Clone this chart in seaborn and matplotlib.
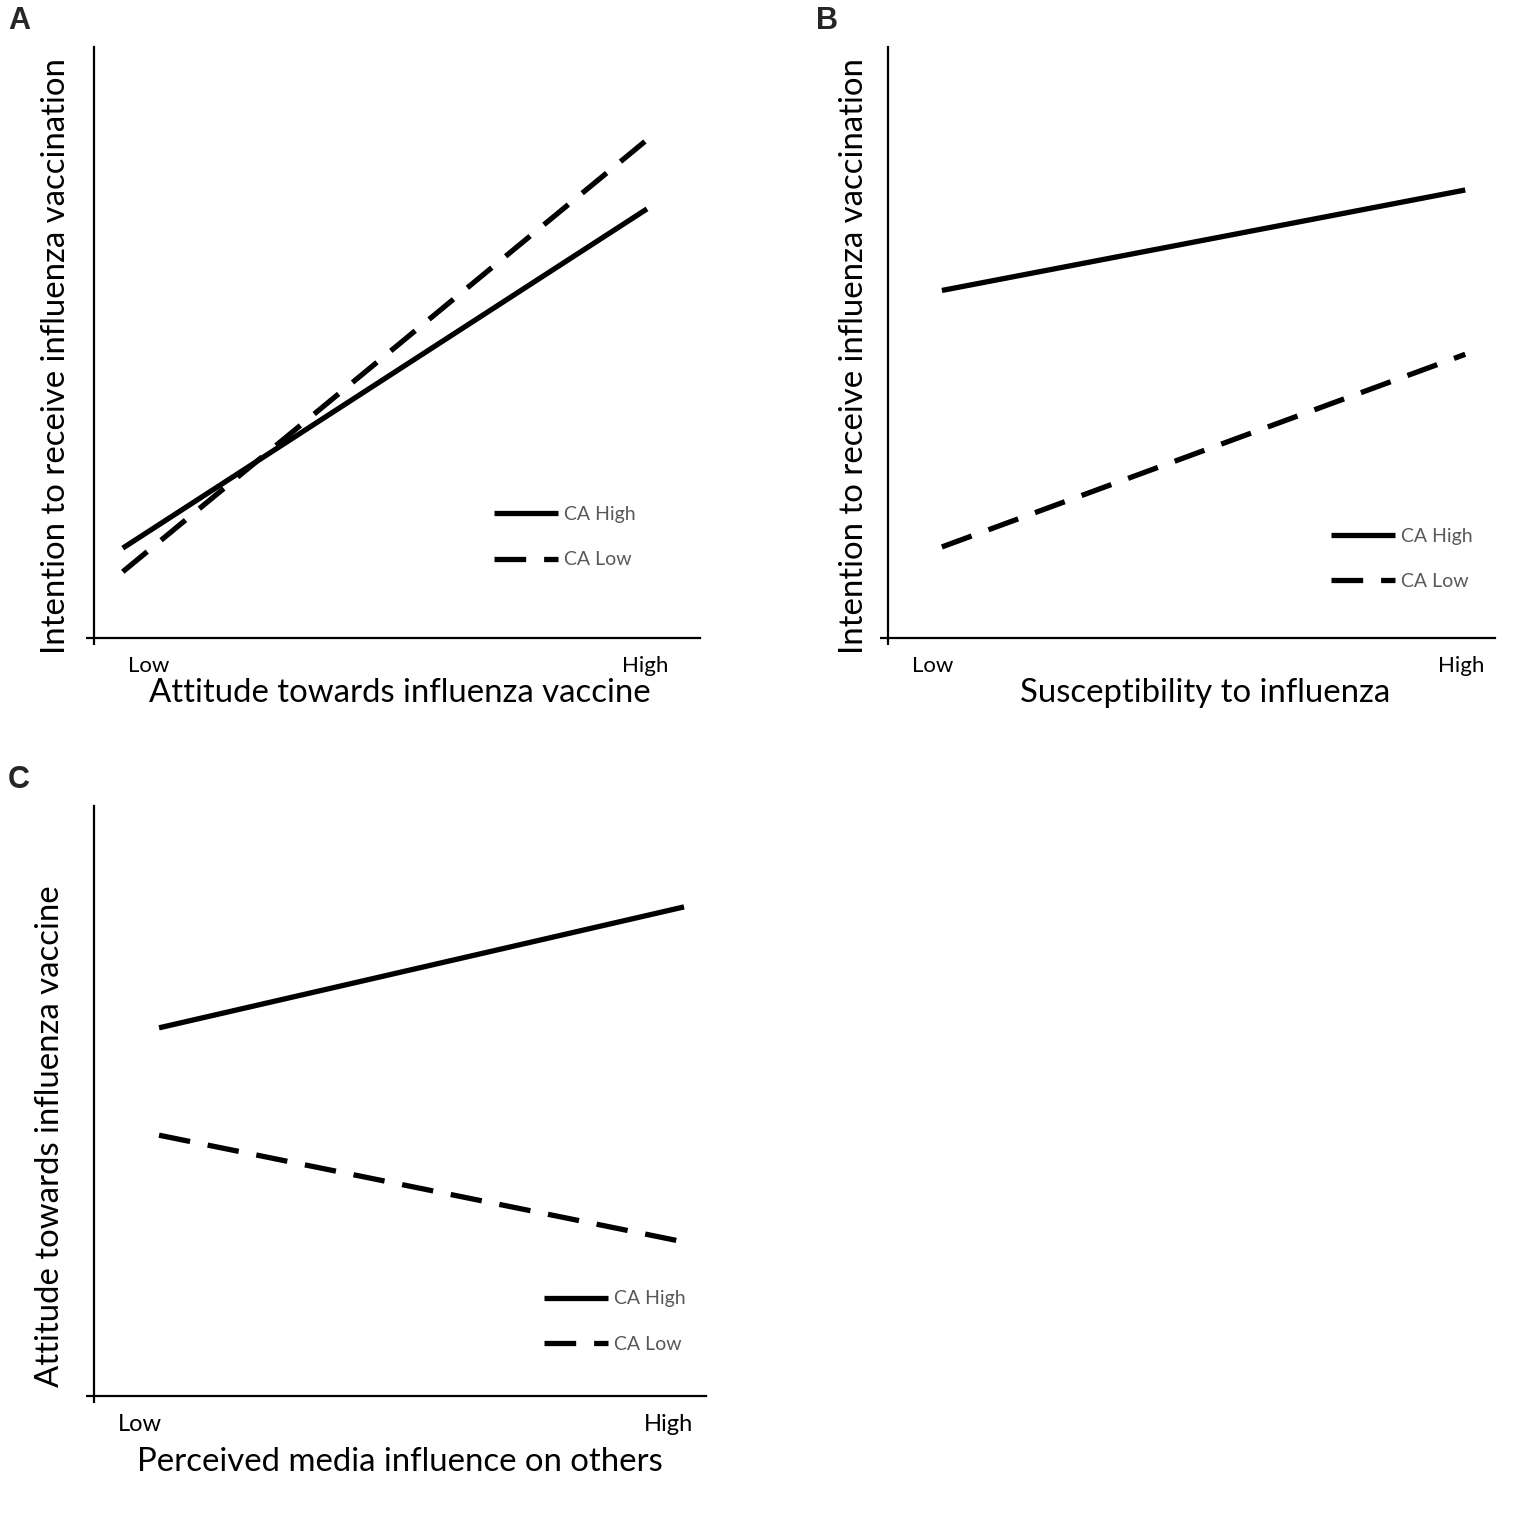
import matplotlib
matplotlib.use("Agg")
import matplotlib.pyplot as plt
import seaborn as sns
import pandas as pd

# niveles del moderador (Low / High) y valores
niveles = [0, 1]
tick_labels = ["Low", "High"]
series = ["CA High", "CA Low"]

# A: actitud -> intencion
a_high = [0.152, 0.726]
a_low = [0.112, 0.843]
# B: susceptibilidad -> intencion
b_high = [0.588, 0.758]
b_low = [0.154, 0.480]
# C: influencia percibida de medios -> actitud
c_high = [0.624, 0.829]
c_low = [0.442, 0.261]

paneles = [
    ("A", "Attitude towards influenza vaccine", "Intention to receive influenza vaccination", a_high, a_low),
    ("B", "Susceptibility to influenza", "Intention to receive influenza vaccination", b_high, b_low),
    ("C", "Perceived media influence on others", "Attitude towards influenza vaccine", c_high, c_low),
]

sns.set_style("white")
plt.rcParams["font.family"] = ["Lato", "DejaVu Sans"]

fig = plt.figure(figsize=(15.35, 15.35), dpi=100)

# posiciones de ejes (fraccion de figura), limites x, posiciones de etiquetas, leyenda
layout = {
    "A": dict(rect=[0.0612, 0.5844, 0.3948, 0.3850], xlim=(-0.055, 1.101), ticks=[0.05, 0.996],
              leg=(0.66, 0.223), lab=(8, 21), ylab=(-0.063, 0.477), xlab=(0.505, -0.093), tfs=16),
    "B": dict(rect=[0.5785, 0.5844, 0.3955, 0.3850], xlim=(-0.103, 1.057), ticks=[-0.017, 0.992],
              leg=(0.73, 0.186), lab=(816, 21), ylab=(-0.056, 0.477), xlab=(0.522, -0.093), tfs=16),
    "C": dict(rect=[0.0612, 0.0906, 0.3988, 0.3843], xlim=(-0.124, 1.042), ticks=[-0.036, 0.97],
              leg=(0.735, 0.179), lab=(8, 780), ylab=(-0.072, 0.441), xlab=(0.5, -0.112), tfs=17),
}

lw = 3.8
guion = (0, (6, 3.4))

for letra, xlab, ylab, alto, bajo in paneles:
    cfg = layout[letra]
    ax = fig.add_axes(cfg["rect"])
    df = pd.DataFrame({"x": niveles * 2, "y": alto + bajo,
                       "grupo": [series[0]] * 2 + [series[1]] * 2})
    sns.lineplot(data=df[df.grupo == series[0]], x="x", y="y", ax=ax, color="black",
                 lw=lw, label=series[0], solid_capstyle="butt")
    sns.lineplot(data=df[df.grupo == series[1]], x="x", y="y", ax=ax, color="black",
                 lw=lw, linestyle=guion, label=series[1], dash_capstyle="butt")

    ax.set_xlim(*cfg["xlim"])
    ax.set_ylim(0, 1)
    for s in ["top", "right"]:
        ax.spines[s].set_visible(False)
    for s in ["left", "bottom"]:
        ax.spines[s].set_color("black")
        ax.spines[s].set_linewidth(1.6)

    ax.set_xticks(cfg["ticks"])
    ax.set_xticklabels(tick_labels, fontsize=cfg["tfs"], color="black")
    ax.set_yticks([0])
    ax.set_yticklabels([""])
    ax.tick_params(axis="x", which="major", length=0, pad=13)
    ax.tick_params(axis="y", left=True, length=6, width=1.6, direction="out", color="black")
    ax.set_xticks([cfg["xlim"][0]], minor=True)
    ax.tick_params(axis="x", which="minor", bottom=True, length=5, width=1.6,
                   color="black", direction="out")

    ax.set_xlabel(xlab, fontsize=23.7, color="black")
    ax.set_ylabel(ylab, fontsize=23.7, color="black")
    ax.xaxis.set_label_coords(*cfg["xlab"])
    ax.yaxis.set_label_coords(*cfg["ylab"])
    ax.xaxis.label.set_verticalalignment("center")
    ax.yaxis.label.set_verticalalignment("center")

    leg = ax.legend(loc="upper left", bbox_to_anchor=cfg["leg"], frameon=False, fontsize=14,
                    handlelength=3.3, handletextpad=0.3, labelspacing=1.45, borderpad=0,
                    borderaxespad=0)
    for t in leg.get_texts():
        t.set_color("#595959")

    fig.text(cfg["lab"][0] / 1535, 1 - cfg["lab"][1] / 1535, letra, fontsize=22,
             fontweight="bold", family="Liberation Sans", va="center", ha="left")

fig.savefig("out.png", dpi=100)
